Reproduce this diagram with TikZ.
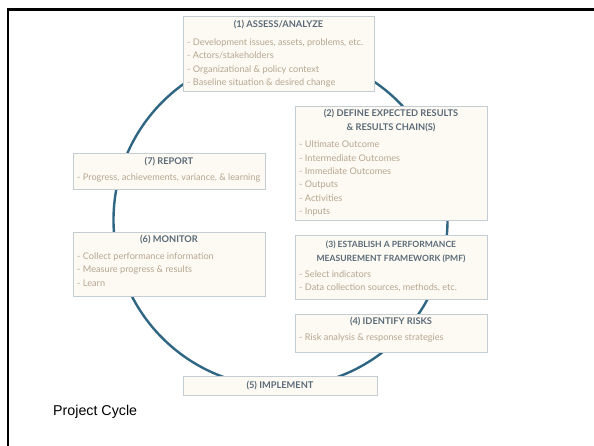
\documentclass[tikz,border=0pt]{standalone}
\usepackage{fontspec}
\setmainfont{Lato}
\newfontfamily\arialfont{Liberation Sans}

\definecolor{boxfill}{HTML}{FDFAF3}
\definecolor{boxedge}{HTML}{C4CDD3}
\definecolor{titlecol}{HTML}{5A6A78}
\definecolor{itemcol}{HTML}{B5A58F}
\definecolor{cyclecol}{HTML}{2F6683}

\begin{document}
\begin{tikzpicture}[x=1bp,y=-1bp,
  stage/.style={draw=boxedge, fill=boxfill, line width=0.8bp, inner sep=0, anchor=north west},
  ttl/.style={text=titlecol, font=\fontsize{9.3}{14}\selectfont\bfseries, align=center, anchor=center, inner sep=0},
  items/.style={text=itemcol, font=\fontsize{9.2}{13.4}\selectfont, align=left, anchor=north west, inner sep=0},
]
\useasboundingbox (0,0) rectangle (594,446);

% slide frame
\draw[line width=2.6bp] (594,9.8) -- (7.8,9.8) -- (7.8,446);

% the cycle ring, drawn first so the stage boxes cover it
\node[draw=cyclecol, line width=2.4bp, circle, minimum size=334bp, inner sep=0] (cycle) at (280.5,220) {};

% (1) assess
\node[stage, minimum width=191bp, minimum height=75bp] (assess) at (183,16) {};
\node[ttl] (assessT) at (278.5,25) {(1) ASSESS/ANALYZE};
\node[items] (assessL) at (187,38.6) {- Development issues, assets, problems, etc.\\- Actors/stakeholders\\- Organizational \& policy context\\- Baseline situation \& desired change};

% (2) define results
\node[stage, minimum width=192bp, minimum height=114bp] (define) at (295,106) {};
\node[ttl] (defineT) at (391,121) {(2) DEFINE EXPECTED RESULTS\\\& RESULTS CHAIN(S)};
\node[items] (defineL) at (299,141) {- Ultimate Outcome\\- Intermediate Outcomes\\- Immediate Outcomes\\- Outputs\\- Activities\\- Inputs};

% (3) PMF
\node[stage, minimum width=192bp, minimum height=64bp] (pmf) at (295,235) {};
\node[ttl, font=\fontsize{8.6}{14}\selectfont\bfseries] (pmfT) at (391,252) {(3) ESTABLISH A PERFORMANCE\\MEASUREMENT FRAMEWORK (PMF)};
\node[items] (pmfL) at (299,270.6) {- Select indicators\\- Data collection sources, methods, etc.};

% (4) risks
\node[stage, minimum width=192bp, minimum height=38bp] (risks) at (295,314) {};
\node[ttl] (risksT) at (391,321.7) {(4) IDENTIFY RISKS};
\node[items] (risksL) at (299,333.6) {- Risk analysis \& response strategies};

% (5) implement
\node[stage, minimum width=194bp, minimum height=19bp] (implement) at (183,376) {};
\node[ttl] (implementT) at (280,385.5) {(5) IMPLEMENT};

% (6) monitor
\node[stage, minimum width=192bp, minimum height=64bp] (monitor) at (73,232) {};
\node[ttl] (monitorT) at (169,240) {(6) MONITOR};
\node[items] (monitorL) at (77,252.6) {- Collect performance information\\- Measure progress \& results\\- Learn};

% (7) report
\node[stage, minimum width=192bp, minimum height=36bp] (report) at (73,153) {};
\node[ttl] (reportT) at (169,161.7) {(7) REPORT};
\node[items] (reportL) at (77,173.6) {- Progress, achievements, variance, \& learning};

% caption
\node[font=\arialfont\fontsize{14.3}{16}\selectfont, anchor=base west, inner sep=0] (caption) at (53,415) {Project Cycle};
\end{tikzpicture}
\end{document}
